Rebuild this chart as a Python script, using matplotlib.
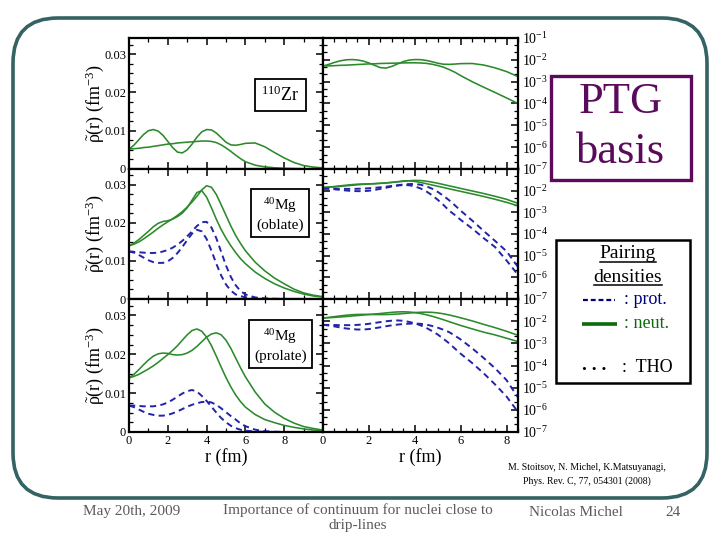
import matplotlib
matplotlib.use('Agg')
import matplotlib.pyplot as plt
from matplotlib.patches import Rectangle, FancyBboxPatch
from matplotlib.ticker import FixedLocator, FixedFormatter, MultipleLocator, LogLocator, NullFormatter

plt.rcParams['font.family'] = ['Liberation Serif', 'DejaVu Serif']
plt.rcParams['mathtext.fontset'] = 'custom'
plt.rcParams['mathtext.rm'] = 'Liberation Serif'
plt.rcParams['mathtext.it'] = 'Liberation Serif:italic'
plt.rcParams['mathtext.bf'] = 'Liberation Serif:bold'

# ---------------- data ----------------
r = [0.0, 0.25, 0.5, 0.75, 1.0, 1.25, 1.5, 1.75, 2.0, 2.25, 2.5, 2.75, 3.0, 3.25,
     3.5, 3.75, 4.0, 4.25, 4.5, 4.75, 5.0, 5.25, 5.5, 5.75, 6.0, 6.5, 7.0, 7.5,
     8.0, 8.5, 9.0, 9.5, 10.0]

# 110Zr neutron pairing densities
zr_neut_a = [.0052, .0062, .0076, .0090, .0100, .0103, .0099, .0088, .0072, .0056, .0044,
             .0042, .0050, .0065, .0083, .0097, .0103, .0102, .0094, .0082, .0070, .0063,
             .0062, .0064, .0067, .0068, .0058, .0043, .0029, .0017, .0009, .0005, .0003]
zr_neut_b = [.0052, .0053, .0054, .0056, .0057, .0059, .0061, .0063, .0065, .0066, .0068,
             .0069, .0070, .0071, .0072, .0073, .0073, .0072, .0069, .0063, .0055, .0046,
             .0036, .0027, .0019, .0010, .00056, .00032, .00018, .0001, .000055, .00003, .000016]

# 40Mg oblate
obl_neut_a = [.0140, .0147, .0156, .0167, .0178, .0190, .0199, .0204, .0206, .0210, .0217,
              .0226, .0240, .0260, .0280, .0285, .0268, .0240, .0210, .0183, .0160, .0140,
              .0122, .0106, .0093, .0071, .0054, .0040, .0029, .0020, .0013, .0008, .0005]
obl_neut_b = [.0140, .0144, .0150, .0158, .0167, .0176, .0186, .0195, .0203, .0211, .0220,
              .0230, .0242, .0255, .0270, .0287, .0298, .0294, .0275, .0248, .0220, .0192,
              .0167, .0146, .0127, .0097, .0074, .0055, .0040, .0026, .0016, .0010, .0006]
obl_prot_a = [.0125, .0122, .0116, .0109, .0102, .0097, .0095, .0095, .0099, .0108, .0121,
              .0137, .0155, .0172, .0182, .0178, .0158, .0127, .0093, .0062, .0038, .0022,
              .0012, .00075, .00045, .00018, .000065, .000025, .000006, .0000013,
              .0000004, .00000015, .00000006]
obl_prot_b = [.0125, .0124, .0123, .0122, .0121, .0121, .0122, .0125, .0129, .0135, .0143,
              .0153, .0165, .0178, .0192, .0202, .0203, .0188, .0160, .0124, .0088, .0058,
              .0036, .0021, .0012, .00042, .00014, .000048, .000016, .000003,
              .0000008, .0000002, .00000006]

# 40Mg prolate
pro_neut_a = [.0139, .0143, .0148, .0155, .0162, .0170, .0179, .0189, .0199, .0210, .0222,
              .0236, .0250, .0261, .0265, .0259, .0244, .0222, .0195, .0167, .0140, .0116,
              .0095, .0078, .0064, .0045, .0032, .0024, .0017, .0012, .0008, .0005, .0003]
pro_neut_b = [.0139, .0148, .0160, .0173, .0185, .0195, .0201, .0203, .0202, .0199, .0198,
              .0199, .0203, .0210, .0220, .0232, .0244, .0252, .0255, .0250, .0236, .0215,
              .0190, .0165, .0142, .0103, .0072, .0051, .0035, .0023, .0014, .0009, .0005]
pro_prot_a = [.0068, .0068, .0067, .0066, .0066, .0066, .0068, .0071, .0076, .0083, .0091,
              .0099, .0105, .0108, .0104, .0093, .0080, .0065, .0050, .0036, .0025, .0016,
              .0010, .00058, .00034, .00013, .000045, .000014, .000004, .0000008,
              .0000002, .00000006, .00000002]
pro_prot_b = [.0068, .0064, .0058, .0052, .0047, .0044, .0042, .0042, .0044, .0048, .0053,
              .0059, .0065, .0070, .0074, .0077, .0078, .0076, .0070, .0061, .0051, .0041,
              .0032, .0022, .0015, .0006, .00022, .000075, .000022, .0000036,
              .000001, .0000003, .0000001]

panel_neut = [[zr_neut_a, zr_neut_b], [obl_neut_a, obl_neut_b], [pro_neut_a, pro_neut_b]]
panel_prot = [[], [obl_prot_a, obl_prot_b], [pro_prot_a, pro_prot_b]]
panel_names = [r'$^{110}$Zr', '$^{40}$Mg\n(oblate)', '$^{40}$Mg\n(prolate)']

lin_ticks = [0, 0.01, 0.02, 0.03]
lin_labels = ['0', '0.01', '0.02', '0.03']
xl_ticks = [0, 2, 4, 6, 8]
log_ticks = [1e-7, 1e-6, 1e-5, 1e-4, 1e-3, 1e-2, 1e-1]
log_labels = [r'$10^{-7}$', r'$10^{-6}$', r'$10^{-5}$', r'$10^{-4}$',
              r'$10^{-3}$', r'$10^{-2}$', r'$10^{-1}$']

GREEN = '#2b8a2b'
BLUE = '#2323a8'

# ---------------- figure ----------------
fig = plt.figure(figsize=(7.2, 5.4), dpi=100)
fig.patch.set_facecolor('white')

bg = fig.add_axes([0, 0, 1, 1], zorder=-5)
bg.set_xlim(0, 720); bg.set_ylim(540, 0); bg.axis('off')
frame = FancyBboxPatch((13, 18), 694, 480, boxstyle='round,pad=0,rounding_size=45',
                       fc='white', ec='#356262', lw=2.6)
bg.add_patch(frame)

rows = [(38, 169), (169, 299), (299, 432)]
XL0, XL1, XR1 = 129, 323, 518

def tick_style(ax):
    ax.tick_params(which='both', direction='in', top=True, right=True, left=True, bottom=True)
    ax.tick_params(which='major', length=5, width=1.1)
    ax.tick_params(which='minor', length=2.8, width=0.9)
    for s in ax.spines.values():
        s.set_linewidth(1.6)

for i, (y0, y1) in enumerate(rows):
    axl = fig.add_axes([XL0 / 720, 1 - y1 / 540, (XL1 - XL0) / 720, (y1 - y0) / 540])
    axr = fig.add_axes([XL1 / 720, 1 - y1 / 540, (XR1 - XL1) / 720, (y1 - y0) / 540])
    for ax in (axl, axr):
        for d in panel_neut[i]:
            ax.plot(r, d, color=GREEN, lw=1.15, solid_joinstyle='round')
        for d in panel_prot[i]:
            ax.plot(r, d, color=BLUE, lw=1.4, dashes=(3.2, 2.2))
        tick_style(ax)

    # left linear panel
    axl.set_xlim(0, 10)
    axl.set_ylim(0, 0.0342)
    axl.yaxis.set_major_locator(FixedLocator(lin_ticks))
    axl.yaxis.set_major_formatter(FixedFormatter(lin_labels))
    axl.yaxis.set_minor_locator(MultipleLocator(0.0025))
    axl.xaxis.set_major_locator(FixedLocator(xl_ticks + [10]))
    axl.xaxis.set_minor_locator(MultipleLocator(1))
    axl.tick_params(axis='y', labelsize=9, pad=2)
    if i == 2:
        axl.xaxis.set_major_formatter(FixedFormatter([str(t) for t in xl_ticks] + ['']))
        axl.tick_params(axis='x', labelsize=9, pad=2)
        axl.set_xlabel('r (fm)', fontsize=13, labelpad=1)
    else:
        axl.tick_params(axis='x', labelbottom=False)
    axl.set_ylabel(r'$\tilde{\mathrm{\rho}}$(r) (fm$^{-3}$)', fontsize=13)
    axl.yaxis.set_label_coords(-0.12, 0.5)

    axl.text(0.78, 0.565 if i == 0 else 0.655, panel_names[i], transform=axl.transAxes,
             ha='center', va='center', fontsize=13 if i == 0 else 11, linespacing=1.3,
             bbox=dict(boxstyle='square,pad=0.35', fc='white', ec='black', lw=1.3))

    # right log panel
    axr.set_xlim(0, 8.5)
    axr.set_yscale('log')
    axr.set_ylim(1e-7, 1e-1)
    ticks = log_ticks if i == 0 else log_ticks[:-1]
    labels = log_labels if i == 0 else log_labels[:-1]
    axr.yaxis.set_major_locator(FixedLocator(ticks))
    axr.yaxis.set_major_formatter(FixedFormatter(labels))
    axr.yaxis.set_minor_locator(LogLocator(base=10, subs=[2.2, 4.6], numticks=20))
    axr.yaxis.set_minor_formatter(NullFormatter())
    axr.tick_params(axis='y', labelleft=False, labelright=True, labelsize=10, pad=3)
    axr.xaxis.set_major_locator(FixedLocator(xl_ticks))
    axr.xaxis.set_minor_locator(MultipleLocator(0.5))
    if i == 2:
        axr.xaxis.set_major_formatter(FixedFormatter([str(t) for t in xl_ticks]))
        axr.tick_params(axis='x', labelsize=9, pad=2)
        axr.set_xlabel('r (fm)', fontsize=13, labelpad=1)
    else:
        axr.tick_params(axis='x', labelbottom=False)

# ---------------- decorations ----------------
deco = fig.add_axes([0, 0, 1, 1], zorder=10)
deco.set_xlim(0, 720); deco.set_ylim(540, 0); deco.axis('off')

PURPLE = '#5c0a5c'
deco.add_patch(Rectangle((551, 76), 140, 104, fc='white', ec=PURPLE, lw=2.4))
deco.text(621, 102, 'PTG', color=PURPLE, fontsize=32, ha='center', va='center')
deco.text(621, 152, 'basis', color=PURPLE, fontsize=32, ha='center', va='center')

deco.add_patch(Rectangle((556, 240), 134, 143, fc='white', ec='black', lw=1.8))
t1 = deco.text(628, 254, 'Pairing', fontsize=14, ha='center', va='center')
t2 = deco.text(628, 277, 'densities', fontsize=14, ha='center', va='center')
deco.plot([583, 615], [300, 300], color='#00007f', lw=1.6, dashes=(2.2, 1.3))
deco.text(624, 300, ': prot.', color='#00007f', fontsize=13, ha='left', va='center')
deco.plot([582, 617], [324, 324], color='#0b6b0b', lw=2.6, solid_capstyle='butt')
deco.text(624, 324, ': neut.', color='#0b6b0b', fontsize=13, ha='left', va='center')
deco.text(594, 366, '. . .', fontsize=14, ha='center', va='center', fontweight='bold')
deco.text(622, 367, ':  THO', fontsize=13, ha='left', va='center')

fig.canvas.draw()
inv = deco.transData.inverted()
for t in (t1, t2):
    bb = t.get_window_extent()
    (xa, ya), (xb, yb) = inv.transform([[bb.x0, bb.y0], [bb.x1, bb.y1]])
    deco.plot([xa, xb], [ya - 1, ya - 1], color='black', lw=1.1)

deco.text(587, 468, 'M. Stoitsov, N. Michel, K.Matsuyanagi,', fontsize=7, ha='center', va='center')
deco.text(587, 481, 'Phys. Rev. C, 77, 054301 (2008)', fontsize=7, ha='center', va='center')

GREY = '#5a5a5a'
deco.text(132, 512, 'May 20th, 2009', fontsize=11, color=GREY, ha='center', va='center')
deco.text(358, 510, 'Importance of continuum for nuclei close to', fontsize=11, color=GREY,
          ha='center', va='center')
deco.text(358, 525, 'drip-lines', fontsize=11, color=GREY, ha='center', va='center')
deco.text(576, 512, 'Nicolas Michel', fontsize=11, color=GREY, ha='center', va='center')
deco.text(673, 512, '24', fontsize=11, color=GREY, ha='center', va='center')

fig.savefig('out.png', dpi=100)
